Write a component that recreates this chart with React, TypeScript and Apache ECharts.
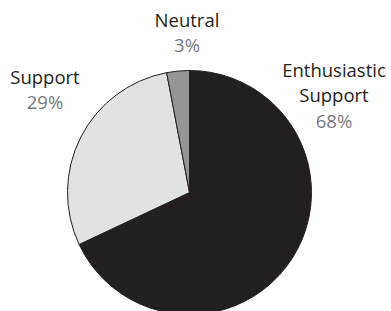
import React, { useEffect, useRef } from "react";
import * as echarts from "echarts";

const categories = ["Enthusiastic Support", "Support", "Neutral"];
const values = [68, 29, 3];
const colors = ["#231f20", "#e1e2e4", "#939598"];
// label anchor positions (layout only)
const labelPos = [
  [334, 95],
  [45, 89],
  [187, 32],
];

export default function App() {
  const ref = useRef<HTMLDivElement>(null);
  useEffect(() => {
    if (!ref.current) return;
    const chart = echarts.init(ref.current, undefined, { renderer: "svg" });
    chart.setOption({
      animation: false,
      series: [
        {
          type: "pie",
          center: [189.5, 192.5],
          radius: 122,
          startAngle: 90,
          clockwise: true,
          avoidLabelOverlap: false,
          silent: true,
          itemStyle: { borderColor: "#231f20", borderWidth: 1 },
          labelLine: { show: false },
          label: {
            show: true,
            position: "outside",
            fontFamily: "Open Sans",
            formatter: (p: any) =>
              p.name
                .split(" ")
                .map((s: string) => `{n|${s}}`)
                .join("\n") + `\n{p|${p.value}%}`,
            rich: {
              n: {
                fontFamily: "Open Sans",
                fontSize: 18.5,
                color: "#231f20",
                lineHeight: 25,
                align: "center",
              },
              p: {
                fontFamily: "Open Sans",
                fontSize: 18.5,
                color: "#7a7b7e",
                lineHeight: 26,
                align: "center",
              },
            },
          },
          labelLayout: (params: any) => ({
            x: labelPos[params.dataIndex][0],
            y: labelPos[params.dataIndex][1],
            align: "center",
            verticalAlign: "middle",
          }),
          data: categories.map((c, i) => ({
            name: c,
            value: values[i],
            itemStyle: { color: colors[i] },
          })),
        },
      ],
    });
    return () => chart.dispose();
  }, []);
  return (
    <div
      ref={ref}
      style={{ position: "fixed", left: 0, top: 0, width: 391, height: 311, background: "#fff" }}
    />
  );
}
